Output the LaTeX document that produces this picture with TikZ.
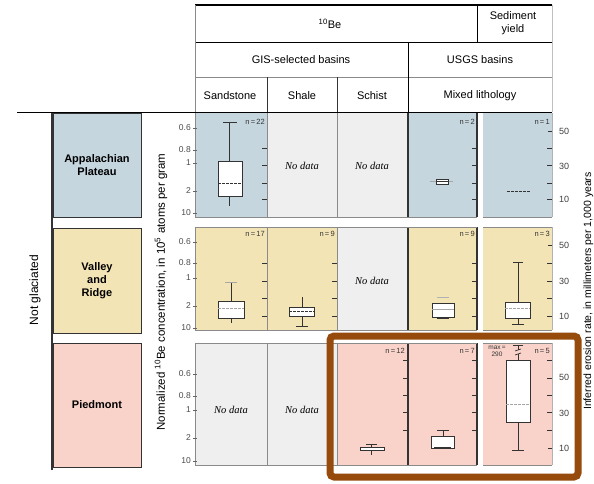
\documentclass[tikz,border=0pt]{standalone}
\usepackage{fontspec}
\setmainfont{Liberation Sans}
\newfontfamily\serifit{Liberation Serif}
\definecolor{ablue}{HTML}{C5D6DF}
\definecolor{vbeige}{HTML}{F3E4B6}
\definecolor{ppink}{HTML}{F9D3CA}
\definecolor{ngray}{HTML}{EFEFEF}
\definecolor{hbrown}{HTML}{964B0C}
\definecolor{dk}{HTML}{333333}
\definecolor{md}{HTML}{8A8A8A}
\begin{document}
\begin{tikzpicture}[x=1pt,y=-1pt,
  hdr/.style={font=\fontsize{11}{13}\selectfont, align=center, inner sep=0},
  region/.style={draw=dk, line width=0.8pt, font=\fontsize{11}{13}\selectfont\bfseries, align=center, inner sep=0},
  nodat/.style={font=\fontsize{10.5}{12}\selectfont\serifit\itshape, inner sep=0},
  nlab/.style={font=\fontsize{7.5}{8}\selectfont, text=dk, anchor=east, inner sep=0},
  ltk/.style={font=\fontsize{8.5}{9}\selectfont, text=black!70, anchor=east, inner sep=0},
  rtk/.style={font=\fontsize{9}{10}\selectfont, text=black!75, anchor=west, inner sep=0},
  axl/.style={font=\fontsize{10.5}{12}\selectfont, rotate=90, inner sep=0},
  bx/.style={fill=white, draw=dk, line width=1pt},
  wh/.style={draw=dk, line width=1pt},
  medd/.style={draw=black!55, dashed, dash pattern=on 2.5pt off 1.5pt, line width=0.9pt},
  tk/.style={draw=dk, line width=0.9pt},
  sep/.style={draw=md, line width=0.8pt},
  sepd/.style={draw=dk, line width=1.1pt}]
\useasboundingbox (0,0) rectangle (594,484);
\fill[white] (0,0) rectangle (594,484);

% ---------- header ----------
\draw[line width=1.6pt] (195,5) -- (552,5);
\draw[line width=0.9pt] (195,42) -- (552,42);
\draw[line width=0.6pt, md] (195,77) -- (552,77);
\draw[line width=0.5pt, md] (195,5) -- (195,112);
\draw[line width=0.5pt, black!25] (552,5) -- (552,112);
\draw[line width=1pt] (477,5) -- (477,42);
\draw[line width=1pt] (408,42) -- (408,112);
\draw[line width=0.9pt, dk] (267,77) -- (267,112);
\draw[line width=0.9pt, dk] (337,77) -- (337,112);
\node[hdr] (hbe) at (330,24) {\textsuperscript{10}Be};
\node[hdr] (hsed) at (513,23) {Sediment\\yield};
\node[hdr] (hgis) at (301,60) {GIS-selected basins};
\node[hdr] (husgs) at (480,60) {USGS basins};
\node[hdr] (hsand) at (230,96) {Sandstone};
\node[hdr] (hshale) at (302,96) {Shale};
\node[hdr] (hschist) at (372,96) {Schist};
\node[hdr] (hmixed) at (480,96) {Mixed lithology};

% ---------- panel backgrounds ----------
% Appalachian Plateau
\fill[ablue] (195,113) rectangle (267,217);
\fill[ngray] (267,113) rectangle (408,217);
\fill[ablue] (408,113) rectangle (477,217);
\fill[ablue] (483,113) rectangle (552,217);
% Valley and Ridge
\fill[vbeige] (195,227) rectangle (337,330);
\fill[ngray] (337,227) rectangle (408,330);
\fill[vbeige] (408,227) rectangle (477,330);
\fill[vbeige] (483,227) rectangle (552,330);
% Piedmont
\fill[ngray] (195,343) rectangle (337,465);
\fill[ppink] (337,343) rectangle (477,465);
\fill[ppink] (483,343) rectangle (552,465);

% panel edges
\foreach \t/\b in {113/217,227/330,343/465}{
  \draw[sep] (195,\t) -- (195,\b);
  \draw[sep] (267,\t) -- (267,\b);
  \draw[sep] (337,\t) -- (337,\b);
  \draw[sepd] (408,\t) -- (408,\b);
  \draw[sepd] (477,\t) -- (477,\b);
  \draw[line width=0.5pt, black!30] (552,\t) -- (552,\b);
  \draw[sep] (195,\b) -- (477,\b);
  \draw[sep] (483,\b) -- (552,\b);
}
\draw[sep] (195,227) -- (477,227);
\draw[sep] (483,227) -- (552,227);
\draw[sep] (195,343) -- (477,343);
\draw[sep] (483,343) -- (552,343);

% ---------- left columns ----------
\draw[line width=1.6pt] (17,112.5) -- (552,112.5);
\draw[line width=1.1pt, dk] (52,113) -- (52,470);
\node[axl, font=\fontsize{12}{13}\selectfont] (notgl) at (35,290) {Not glaciated};
\node[region, fill=ablue, minimum width=88pt, minimum height=104pt] (rap) at (97,165.5) {Appalachian\\Plateau};
\node[region, fill=vbeige, minimum width=88pt, minimum height=105pt] (rvr) at (97,280.5) {Valley\\and\\Ridge};
\node[region, fill=ppink, minimum width=88pt, minimum height=124pt] (rpd) at (97,405) {Piedmont};

% ---------- axis labels ----------
\node[axl, font=\fontsize{11.5}{12}\selectfont] (lax) at (161,292) {Normalized \textsuperscript{10}Be concentration, in 10\textsuperscript{5} atoms per gram};
\node[axl] (rax) at (588.5,291) {Inferred erosion rate, in millimeters per 1,000 years};

% ---------- left ticks ----------
\foreach \y/\l in {128/0.6,150/0.8,163/1,191/2,213/10,
                   242/0.6,263/0.8,278/1,306/2,328/10,
                   374/0.6,396/0.8,410/1,438/2,461/10}{
  \node[ltk] at (191,\y) {\l};
  \draw[line width=0.8pt, black!60] (193,\y) -- (197,\y);
}
% ---------- right labels ----------
\foreach \y/\l in {131/50,166/30,199/10,245/50,281/30,316/10,377/50,413/30,448/10}{
  \node[rtk] at (559,\y) {\l};
}
% ---------- right-scale ticks ----------
\foreach \x in {267,477,552}{
  \foreach \y in {148,165,183,199}{ \draw[tk] (\x-5,\y) -- (\x,\y); }
}
\draw[tk] (548,131) -- (552,131);
\foreach \x in {267,337,477,552}{
  \foreach \y in {263,281,298,316}{ \draw[tk] (\x-5,\y) -- (\x,\y); }
}
\draw[tk] (548,245) -- (552,245);
\foreach \x in {408,477,552}{
  \foreach \y in {360,378,395,412,430}{ \draw[tk] (\x-5,\y) -- (\x,\y); }
}
\draw[tk] (548,448) -- (552,448);

% ---------- no data ----------
\node[nodat] (nd1) at (302,166) {No data};
\node[nodat] (nd2) at (372,166) {No data};
\node[nodat] (nd3) at (372,281) {No data};
\node[nodat] (nd4) at (231,410) {No data};
\node[nodat] (nd5) at (302,410) {No data};

% ---------- n labels ----------
\node[nlab] at (265,122) {n\,=\,22};
\node[nlab] at (475,122) {n\,=\,2};
\node[nlab] at (550,122) {n\,=\,1};
\node[nlab] at (265,234) {n\,=\,17};
\node[nlab] at (335,234) {n\,=\,9};
\node[nlab] at (475,234) {n\,=\,9};
\node[nlab] at (550,234) {n\,=\,3};
\node[nlab] at (405,351) {n\,=\,12};
\node[nlab] at (475,351) {n\,=\,7};
\node[nlab] at (550,351) {n\,=\,5};
\node[font=\fontsize{6.5}{7}\selectfont, text=dk, align=center, inner sep=0] (mx) at (497,351) {max\,=\\290};

% ---------- box plots ----------
% Appalachian sandstone
\draw[wh] (229,123) -- (229,206);
\draw[wh] (223,123) -- (237,123);
\draw[bx] (218,161) rectangle (242,196);
\draw[medd, draw=dk] (218,183) -- (242,183);
% Appalachian mixed
\draw[line width=0.6pt, black!35] (430,181) -- (453,181);
\draw[bx, line width=0.9pt] (436,179) rectangle (448,184);
\draw[line width=0.6pt, dk] (436,181.5) -- (448,181.5);
% Appalachian sediment
\draw[medd, draw=dk] (507,191) -- (530,191);

% Valley sandstone
\draw[wh] (231,282) -- (231,323);
\draw[line width=0.8pt, black!35] (225,282) -- (237,282);
\draw[bx] (218,301) rectangle (244,318);
\draw[medd, draw=black!35] (218,308) -- (244,308);
% Valley shale
\draw[wh] (302,297) -- (302,326);
\draw[wh] (296,326) -- (308,326);
\draw[bx] (289,307) rectangle (314,316);
\draw[medd, draw=dk] (289,311.5) -- (314,311.5);
% Valley mixed
\draw[line width=0.6pt, black!30] (437,297) -- (449,297);
\draw[bx] (432,303) rectangle (454,317);
\draw[line width=0.7pt, black!35] (432,309) -- (454,309);
\draw[line width=1.6pt, dk] (437,318) -- (449,318);
% Valley sediment
\draw[wh] (518,262) -- (518,324);
\draw[wh] (513,262) -- (523,262);
\draw[wh] (512,324) -- (524,324);
\draw[bx] (505,302) rectangle (530,318);
\draw[medd, draw=black!35] (505,308) -- (530,308);

% Piedmont schist
\draw[wh, line width=0.8pt] (371,444) -- (371,455);
\draw[wh, line width=0.8pt] (366,444) -- (377,444);
\draw[bx] (360,447) rectangle (384,450);
% Piedmont mixed
\draw[wh] (443,430) -- (443,436);
\draw[wh] (437,430) -- (449,430);
\draw[bx] (431,436) rectangle (454,448);
\draw[line width=1.8pt, dk] (434,448) -- (451,448);
% Piedmont sediment
\draw[wh] (518,345) -- (518,350);
\draw[wh] (518,354) -- (518,360);
\draw[wh, line width=0.7pt] (515,351) -- (521,349);
\draw[wh, line width=0.7pt] (515,355) -- (521,353);
\draw[wh] (513,345) -- (523,345);
\draw[wh] (518,422) -- (518,450);
\draw[wh] (512,450) -- (524,450);
\draw[bx] (506,360) rectangle (530,422);
\draw[medd, draw=black!35] (506,404) -- (530,404);

% ---------- highlight ----------
\draw[hbrown, line width=7pt, rounded corners=4pt] (330,336) rectangle (578,477);
\end{tikzpicture}
\end{document}
